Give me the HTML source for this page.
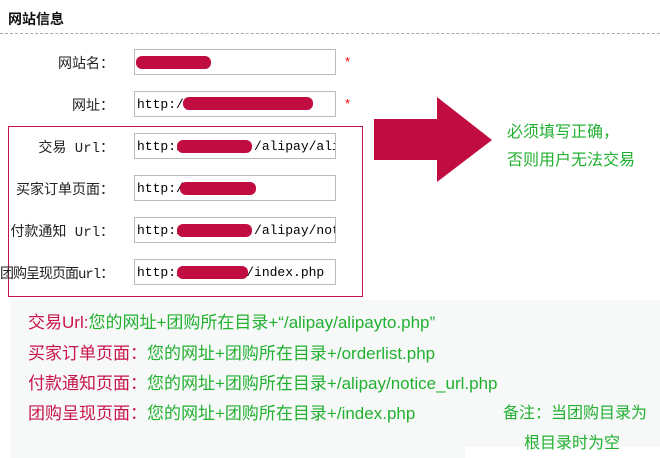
<!DOCTYPE html>
<html><head><meta charset="utf-8"><style>
body{margin:0;width:660px;height:458px;background:#fff;position:relative;overflow:hidden;font-family:"Liberation Sans","Noto Sans CJK SC",sans-serif}
.a{position:absolute;white-space:nowrap}
.lbl{position:absolute;right:546px;font-size:14px;color:#222;text-align:right;font-family:"Liberation Mono","Noto Sans CJK SC",monospace}
.inp{position:absolute;left:134px;border:1px solid #bbb;background:#fff;overflow:hidden;font-family:"Liberation Mono","Noto Sans CJK SC",monospace;font-size:13px;line-height:25px;padding-left:2px;box-sizing:border-box;width:202px;height:26px;white-space:nowrap}
.blot{position:absolute;height:13px;background:#c00c40;border-radius:6px}
.star{position:absolute;left:345px;color:#e00;font-size:13px}
.r{color:#c8144a}.g{color:#22b030}
.bt{position:absolute;left:28px;font-size:17px}
</style></head><body>
<div class="a" style="left:8px;top:9px;font-size:14px;font-weight:bold;color:#111">网站信息</div>
<div class="a" style="left:0;top:33px;width:660px;border-top:1px dashed #aaa"></div>

<div class="lbl" style="top:53px">网站名：</div>
<div class="inp" style="top:49px"></div><div class="blot" style="left:136px;top:56px;width:75px"></div><div class="star" style="top:54px">*</div>
<div class="lbl" style="top:95px">网址：</div>
<div class="inp" style="top:91px">http://</div><div class="blot" style="left:183px;top:97px;width:130px"></div><div class="star" style="top:96px">*</div>

<div class="a" style="left:8px;top:126px;width:355px;height:171px;border:1px solid #c8144a;box-sizing:border-box"></div>
<div class="lbl" style="top:137px">交易 Url：</div>
<div class="inp" style="top:133px">http:/&nbsp;&nbsp;&nbsp;&nbsp;&nbsp;&nbsp;&nbsp;&nbsp;&nbsp;/alipay/alipayto</div><div class="blot" style="left:177px;top:140px;width:75px"></div>
<div class="lbl" style="top:179px">买家订单页面：</div>
<div class="inp" style="top:175px">http:/</div><div class="blot" style="left:180px;top:182px;width:76px"></div>
<div class="lbl" style="top:221px">付款通知 Url：</div>
<div class="inp" style="top:217px">http:/&nbsp;&nbsp;&nbsp;&nbsp;&nbsp;&nbsp;&nbsp;&nbsp;&nbsp;/alipay/notify</div><div class="blot" style="left:177px;top:224px;width:75px"></div>
<div class="a" style="left:0;top:263px;font-size:14px;color:#222;font-family:'Liberation Mono','Noto Sans CJK SC',monospace;letter-spacing:-1px">团购呈现页面url：</div>
<div class="inp" style="top:259px">http:/&nbsp;&nbsp;&nbsp;&nbsp;&nbsp;&nbsp;&nbsp;&nbsp;/index.php</div><div class="blot" style="left:177px;top:266px;width:71px"></div>

<svg class="a" style="left:0;top:0" width="660" height="458"><polygon points="374,119 437,119 437,97 492,140 437,182 437,160 374,160" fill="#c00c40"/></svg>
<div class="a g" style="left:507px;top:118px;font-size:16px">必须填写正确，</div>
<div class="a g" style="left:507px;top:146px;font-size:16px">否则用户无法交易</div>

<div class="a" style="left:10px;top:300px;width:650px;height:147px;background:#f7f9f9"></div>
<div class="a" style="left:10px;top:447px;width:455px;height:11px;background:#f7f9f9"></div>
<div class="a bt" style="top:308px"><span class="r">交易Url:</span><span class="g">您的网址+团购所在目录+“/alipay/alipayto.php”</span></div>
<div class="a bt" style="top:339px"><span class="r">买家订单页面：</span><span class="g">您的网址+团购所在目录+/orderlist.php</span></div>
<div class="a bt" style="top:369px"><span class="r">付款通知页面：</span><span class="g">您的网址+团购所在目录+/alipay/notice_url.php</span></div>
<div class="a bt" style="top:399px"><span class="r">团购呈现页面：</span><span class="g">您的网址+团购所在目录+/index.php</span></div>
<div class="a g" style="left:503px;top:399px;font-size:16px">备注：当团购目录为</div>
<div class="a g" style="left:524px;top:429px;font-size:16px">根目录时为空</div>
</body></html>
